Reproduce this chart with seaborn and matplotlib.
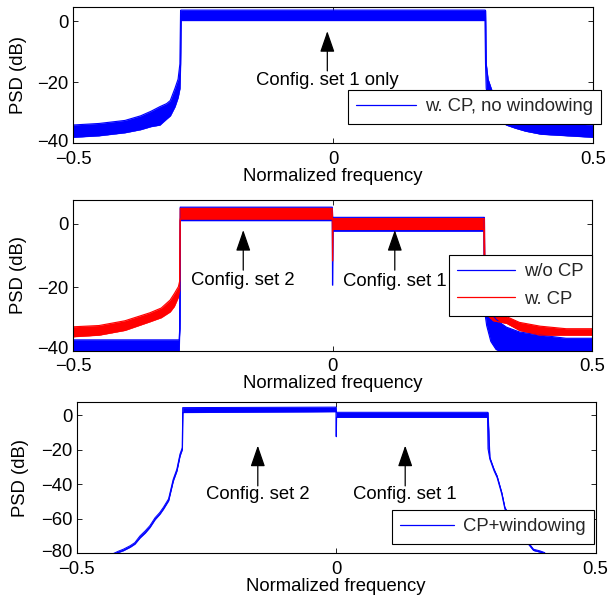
import numpy as np
import pandas as pd
import matplotlib
matplotlib.use("Agg")
import matplotlib.pyplot as plt
import seaborn as sns
from matplotlib.lines import Line2D
from matplotlib.transforms import ScaledTranslation

# ---------------- data ----------------
# Panel 1: w. CP, no windowing (envelope of the PSD, dB)
x1 = [-0.5, -0.45, -0.4, -0.37, -0.35, -0.333, -0.32, -0.313, -0.304, -0.298, -0.2945, -0.2932, -0.2922,
      0.2922, 0.2932, 0.2945, 0.298, 0.304, 0.313, 0.32, 0.333, 0.35, 0.37, 0.4, 0.45, 0.5]
lo1 = [-38, -37.5, -36.5, -35.5, -34.5, -34, -32, -31, -28, -25, -22, -14, 0.2,
       0.2, -14, -22, -25, -28, -31, -32, -34, -35, -36, -37, -37.5, -38]
hi1 = [-34, -33.5, -32.5, -31, -29.5, -28, -27, -26, -22, -19, -14, 3.5, 3.6,
       3.6, 3.5, -14, -19, -22, -26, -27, -28, -29.5, -31, -32.5, -33.5, -34]

# Panel 2: w/o CP (blue)
x2b = [-0.5, -0.3, -0.2955, -0.2945, -0.2935, -0.0005, 0.0, 0.0005, 0.2915, 0.2925, 0.2935,
       0.297, 0.305, 0.315, 0.322, 0.335, 0.36, 0.4, 0.45, 0.5]
lo2b = [-40, -40, -40, -33, 1.0, 1.0, -19.3, -2.3, -2.3, -26, -28,
        -32, -37, -39.5, -40, -40, -40, -40, -40, -40]
hi2b = [-36.5, -36.5, -36.5, -33, 5.2, 5.2, 2.0, 2.0, 2.0, 2.0, -25,
        -26, -28, -30, -31, -32.5, -34, -35, -36, -36]

# Panel 2: w. CP (red)
x2r = [-0.5, -0.45, -0.4, -0.352, -0.33, -0.313, -0.305, -0.297, -0.2945, -0.2935, -0.0005, 0.0, 0.0005,
       0.2915, 0.2925, 0.2935, 0.3, 0.31, 0.3355, 0.36, 0.4, 0.45, 0.5]
lo2r = [-35.5, -35, -33.5, -30.8, -29.5, -27.7, -26, -23, -21, 1.5, 1.5, -11.7, -1.8,
        -1.8, -20, -27, -29, -30.5, -31.3, -33.5, -35, -35, -35]
hi2r = [-32.4, -32, -30.5, -28, -26.5, -24, -22, -19.8, -18, 4.8, 4.8, 1.5, 1.6,
        1.6, 1.6, -20, -25, -27, -29.2, -31, -32.2, -33, -33]

# Panel 3: CP+windowing
x3 = [-0.43, -0.42, -0.41, -0.397, -0.388, -0.378, -0.368, -0.359, -0.349, -0.340, -0.333, -0.323,
      -0.314, -0.307, -0.301, -0.2965, -0.2958, -0.0005, 0.0, 0.0005, 0.2915, 0.2925, 0.296, 0.304,
      0.310, 0.319, 0.325, 0.335, 0.35, 0.36, 0.370, 0.380, 0.393, 0.402]
lo3 = [-80.7, -79.5, -78.4, -76.4, -74.6, -71, -68.2, -65, -60.4, -57.4, -54.4, -49.5,
       -38.1, -32.3, -23.6, -19.8, 1.5, 2.0, -12.5, -1.3, -1.3, -19.5, -25.5, -32.2,
       -36.2, -45.8, -54.4, -59.5, -66.4, -70.5, -74.6, -78.3, -79.3, -80.3]
hi3 = [-80.2, -78.8, -77.6, -75.6, -73.8, -69.9, -67, -64, -59.4, -56.4, -53.4, -48.5,
       -37.1, -31.3, -22.6, -18.8, 4.3, 4.6, 3.5, 1.6, 1.6, 1.5, -24.5, -31.2,
       -35.2, -44.8, -53.4, -58.5, -65.4, -69.5, -73.6, -77.6, -78.6, -79.6]

xticks = [-0.5, 0, 0.5]
xticklabels = ["\u22120.5", "0", "0.5"]
yticks12 = [-40, -20, 0]
yticks3 = [-80, -60, -40, -20, 0]

# ---------------- style ----------------
sns.set_theme(style="white")
plt.rcParams["font.family"] = ["Liberation Sans", "DejaVu Sans"]
plt.rcParams["axes.unicode_minus"] = True

FS = 13.3
BLUE = (0, 0, 1)
RED = (1, 0, 0)

fig = plt.figure(figsize=(6.09, 6.04), dpi=100)
ax1 = fig.add_axes([0.1199, 0.7627, 0.8539, 0.2252])
ax2 = fig.add_axes([0.1199, 0.4189, 0.8522, 0.2500])
ax3 = fig.add_axes([0.1259, 0.0839, 0.8522, 0.2500])


def band(ax, x, lo, hi, color, elw=0.8):
    df = pd.DataFrame({"x": x, "lo": lo, "hi": hi})
    ax.fill_between(df["x"], df["lo"], df["hi"], color=color, lw=0.3)
    sns.lineplot(data=df, x="x", y="lo", ax=ax, color=color, lw=elw, legend=False,
                 estimator=None, sort=False)
    sns.lineplot(data=df, x="x", y="hi", ax=ax, color=color, lw=elw, legend=False,
                 estimator=None, sort=False)


def arrow(ax, x, tip, tail, ty, label):
    ax.annotate("", xy=(x, tip), xytext=(x, tail),
                arrowprops=dict(arrowstyle="-|>,head_length=1.3,head_width=0.45",
                                mutation_scale=10, color="black", lw=0.9,
                                shrinkA=0, shrinkB=0))
    ax.text(x, ty, label, ha="center", va="center", fontsize=FS, color="black")


def style(ax, ylim, yticks):
    ax.set_xlim(-0.5, 0.5)
    ax.set_ylim(*ylim)
    ax.set_xticks(xticks)
    ax.set_xticklabels(xticklabels)
    ax.set_yticks(yticks)
    ax.set_yticklabels([("\u2212" + str(-v)) if v < 0 else str(v) for v in yticks])
    ax.tick_params(direction="in", length=3.5, width=0.6, top=True, right=True,
                   bottom=True, left=True, labelsize=FS, colors="black")
    ax.tick_params(axis="x", pad=5.3)
    ax.tick_params(axis="y", pad=3.0)
    for s in ax.spines.values():
        s.set_color("black")
        s.set_linewidth(0.8)
    ax.set_xlabel("Normalized frequency", fontsize=FS, labelpad=0.0, color="black")
    ax.set_ylabel("PSD (dB)", fontsize=FS, color="black")
    # lowest y label sits a little above its tick, as in the reference
    lab = ax.yaxis.get_major_ticks()[0].label1
    lab.set_transform(lab.get_transform() + ScaledTranslation(0, 0.032, fig.dpi_scale_trans))


def framed(leg):
    leg.get_frame().set_edgecolor("black")
    leg.get_frame().set_linewidth(0.8)
    leg.get_frame().set_alpha(1)


# Panel 1
band(ax1, x1, lo1, hi1, BLUE)
style(ax1, (-40, 4.5), yticks12)
ax1.yaxis.set_label_coords(-0.088, 0.5)
arrow(ax1, -0.011, -3.3, -16.3, -19.6, "Config. set 1 only")
framed(ax1.legend(handles=[Line2D([], [], color=BLUE, lw=0.9)], labels=["w. CP, no windowing"],
                  loc="upper right", bbox_to_anchor=(1.0154, 0.392), borderaxespad=0,
                  fontsize=FS, frameon=True, fancybox=False, handlelength=3.2,
                  handletextpad=0.5, borderpad=0.45))

# Panel 2
band(ax2, x2b, lo2b, hi2b, BLUE)
band(ax2, x2r, lo2r, hi2r, RED)
style(ax2, (-40, 7.45), yticks12)
ax2.yaxis.set_label_coords(-0.088, 0.5)
arrow(ax2, -0.172, -2.0, -14.6, -17.7, "Config. set 2")
arrow(ax2, 0.12, -2.0, -14.6, -18.2, "Config. set 1")
framed(ax2.legend(handles=[Line2D([], [], color=BLUE, lw=0.9), Line2D([], [], color=RED, lw=0.9)],
                  labels=["w/o CP", "w. CP"],
                  loc="upper right", bbox_to_anchor=(0.9994, 0.636), borderaxespad=0,
                  fontsize=FS, frameon=True, fancybox=False, handlelength=3.1,
                  handletextpad=0.5, borderpad=0.45, labelspacing=0.57))

# Panel 3
band(ax3, x3, lo3, hi3, BLUE, elw=0.7)
style(ax3, (-80, 7.35), yticks3)
ax3.yaxis.set_label_coords(-0.092, 0.5)
arrow(ax3, -0.151, -17.7, -41.0, -46.0, "Config. set 2")
arrow(ax3, 0.133, -17.7, -41.0, -46.0, "Config. set 1")
framed(ax3.legend(handles=[Line2D([], [], color=BLUE, lw=0.9)], labels=["CP+windowing"],
                  loc="upper right", bbox_to_anchor=(0.9967, 0.287), borderaxespad=0,
                  fontsize=FS, frameon=True, fancybox=False, handlelength=2.9,
                  handletextpad=0.5, borderpad=0.45))

fig.savefig("out.png", dpi=100, facecolor="white")
